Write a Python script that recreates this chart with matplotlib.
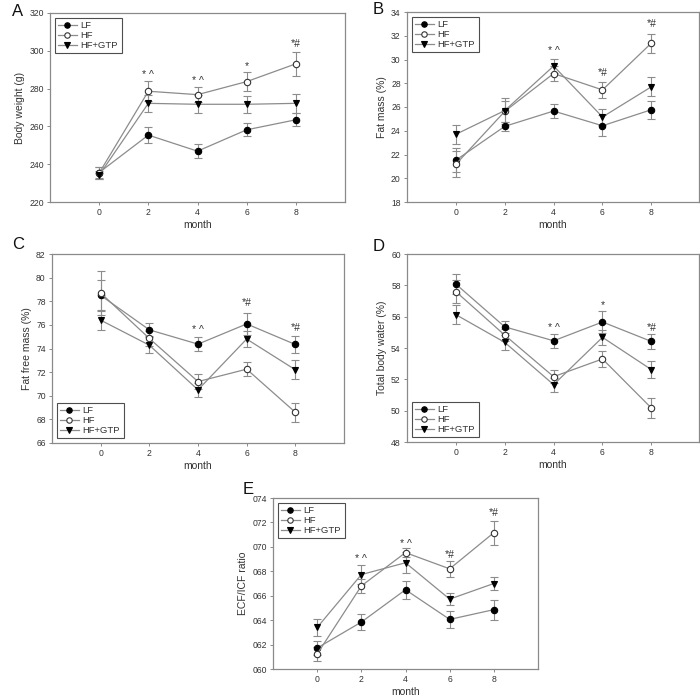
import matplotlib
matplotlib.use("Agg")
import matplotlib.pyplot as plt
from matplotlib.ticker import FuncFormatter

plt.rcParams['font.family'] = ['Liberation Sans', 'DejaVu Sans']

months = [0, 2, 4, 6, 8]
groups = ["LF", "HF", "HF+GTP"]

# Panel A: Body weight (g)
bw_lf = [235.6, 255.4, 246.9, 258.2, 263.5]
bw_lf_err = [3.0, 4.3, 3.6, 3.5, 3.5]
bw_hf = [235.3, 278.6, 276.8, 283.7, 293.1]
bw_hf_err = [3.2, 5.3, 4.0, 5.0, 6.5]
bw_gtp = [234.2, 272.2, 271.7, 271.7, 272.2]
bw_gtp_err = [2.0, 4.6, 4.8, 4.6, 5.0]
bw_marks = {2: "* ^", 4: "* ^", 6: "*", 8: "*#"}
bw_mark_y = [287.0, 284.0, 292.0, 303.8]

# Panel B: Fat mass (%)
fm_lf = [21.52, 24.37, 25.66, 24.42, 25.77]
fm_lf_err = [1.0, 0.4, 0.6, 0.9, 0.75]
fm_hf = [21.18, 25.63, 28.82, 27.44, 31.38]
fm_hf_err = [1.1, 0.9, 0.6, 0.65, 0.8]
fm_gtp = [23.7, 25.7, 29.45, 25.16, 27.7]
fm_gtp_err = [0.8, 1.1, 0.6, 0.7, 0.8]
fm_marks = {4: "* ^", 6: "*#", 8: "*#"}
fm_mark_y = [30.7, 28.9, 33.0]

# Panel C: Fat free mass (%)
ffm_lf = [78.5, 75.58, 74.37, 76.08, 74.34]
ffm_lf_err = [1.3, 0.55, 0.6, 0.95, 0.7]
ffm_hf = [78.7, 74.85, 71.2, 72.25, 68.6]
ffm_hf_err = [1.9, 0.6, 0.65, 0.6, 0.8]
ffm_gtp = [76.4, 74.28, 70.5, 74.8, 72.2]
ffm_gtp_err = [0.85, 0.7, 0.6, 0.65, 0.8]
ffm_marks = {4: "* ^", 6: "*#", 8: "*#"}
ffm_mark_y = [75.6, 77.85, 75.7]

# Panel D: Total body water (%)
tbw_lf = [58.08, 55.35, 54.46, 55.66, 54.42]
tbw_lf_err = [0.65, 0.4, 0.43, 0.7, 0.5]
tbw_hf = [57.6, 54.82, 52.17, 53.3, 50.17]
tbw_hf_err = [0.75, 0.4, 0.43, 0.5, 0.63]
tbw_gtp = [56.13, 54.36, 51.66, 54.68, 52.62]
tbw_gtp_err = [0.6, 0.5, 0.45, 0.5, 0.55]
tbw_marks = {4: "* ^", 6: "*", 8: "*#"}
tbw_mark_y = [55.25, 56.75, 55.3]

# Panel E: ECF/ICF ratio
ecf_lf = [0.6172, 0.6384, 0.6649, 0.6406, 0.6486]
ecf_lf_err = [0.006, 0.0066, 0.0072, 0.0069, 0.0083]
ecf_hf = [0.6122, 0.668, 0.6953, 0.682, 0.7116]
ecf_hf_err = [0.006, 0.006, 0.004, 0.0063, 0.0098]
ecf_gtp = [0.634, 0.6773, 0.687, 0.6572, 0.670]
ecf_gtp_err = [0.007, 0.0075, 0.0085, 0.005, 0.0055]
ecf_marks = {2: "* ^", 4: "* ^", 6: "*#", 8: "*#"}
ecf_mark_y = [0.690, 0.702, 0.693, 0.728]

LINE = '#8c8c8c'
SPINE = '#8a8a8a'
TXT = '#333333'

fig = plt.figure(figsize=(7, 7), dpi=100)


def panel(rect, letter, letter_xy, series, ylim, yticks, ylabel, marks, mark_y,
          legend_loc, xlim=(-2, 10), yfmt=None):
    ax = fig.add_axes(rect)
    styles = [
        dict(marker='o', mfc='black', mec='black'),
        dict(marker='o', mfc='white', mec='#333333'),
        dict(marker='v', mfc='black', mec='black'),
    ]
    handles = []
    for (vals, errs), st, lab in zip(series, styles, groups):
        ax.errorbar(months, vals, yerr=errs, fmt='none', ecolor=LINE,
                    elinewidth=0.8, capsize=2.6, capthick=0.8, zorder=2)
        h, = ax.plot(months, vals, color=LINE, lw=0.9, marker=st['marker'],
                     ms=4.6, mfc=st['mfc'], mec=st['mec'], mew=0.8,
                     label=lab, zorder=3)
        handles.append(h)
    for (m, t), yy in zip(marks.items(), mark_y):
        ax.text(m, yy, t, ha='center', va='center', fontsize=7.5, color=TXT)
    ax.set_xlim(*xlim)
    ax.set_ylim(*ylim)
    ax.set_xticks(months)
    ax.set_yticks(yticks)
    if yfmt is not None:
        ax.yaxis.set_major_formatter(FuncFormatter(yfmt))
    for s in ax.spines.values():
        s.set_color(SPINE)
        s.set_linewidth(0.9)
    ax.tick_params(direction='out', length=2.5, width=0.7, colors=SPINE,
                   labelsize=6.2, labelcolor=TXT, pad=2)
    ax.tick_params(top=False, right=False)
    ax.set_xlabel('month', fontsize=7.5, color=TXT, labelpad=2)
    ax.set_ylabel(ylabel, fontsize=7.5, color=TXT, labelpad=3)
    leg = ax.legend(handles=handles, loc=legend_loc, fontsize=6.8,
                    frameon=True, fancybox=False, handlelength=2.0,
                    handletextpad=0.4, borderpad=0.35, labelspacing=0.1,
                    borderaxespad=0.5, markerscale=0.85)
    leg.get_frame().set_edgecolor('#222222')
    leg.get_frame().set_linewidth(0.8)
    for t in leg.get_texts():
        t.set_color(TXT)
    fig.text(letter_xy[0] / 700, 1 - letter_xy[1] / 700, letter,
             fontsize=12, color='#111111', ha='left', va='top')
    return ax


def px(l, r, t, b):
    return [l / 700, 1 - b / 700, (r - l) / 700, (b - t) / 700]


panel(px(50, 345, 13, 202), 'A', (12, 4),
      [(bw_lf, bw_lf_err), (bw_hf, bw_hf_err), (bw_gtp, bw_gtp_err)],
      (220, 320), [220, 240, 260, 280, 300, 320], 'Body weight (g)',
      bw_marks, bw_mark_y, 'upper left')

panel(px(407, 699, 12, 202), 'B', (373, 2),
      [(fm_lf, fm_lf_err), (fm_hf, fm_hf_err), (fm_gtp, fm_gtp_err)],
      (18, 34), list(range(18, 35, 2)), 'Fat mass (%)',
      fm_marks, fm_mark_y, 'upper left', xlim=(-2, 9.95))

panel(px(52, 344, 254, 443), 'C', (12, 237),
      [(ffm_lf, ffm_lf_err), (ffm_hf, ffm_hf_err), (ffm_gtp, ffm_gtp_err)],
      (66, 82), list(range(66, 83, 2)), 'Fat free mass (%)',
      ffm_marks, ffm_mark_y, 'lower left')

panel(px(407, 699, 254, 442), 'D', (373, 239),
      [(tbw_lf, tbw_lf_err), (tbw_hf, tbw_hf_err), (tbw_gtp, tbw_gtp_err)],
      (48, 60), list(range(48, 61, 2)), 'Total body water (%)',
      tbw_marks, tbw_mark_y, 'lower left', xlim=(-2, 9.95))

panel(px(273, 538, 498, 669), 'E', (243, 482),
      [(ecf_lf, ecf_lf_err), (ecf_hf, ecf_hf_err), (ecf_gtp, ecf_gtp_err)],
      (0.60, 0.74), [0.60, 0.62, 0.64, 0.66, 0.68, 0.70, 0.72, 0.74],
      'ECF/ICF ratio', ecf_marks, ecf_mark_y, 'upper left',
      yfmt=lambda v, p: '0%02d' % round(v * 100))

fig.savefig('out.png', dpi=100, facecolor='white')
